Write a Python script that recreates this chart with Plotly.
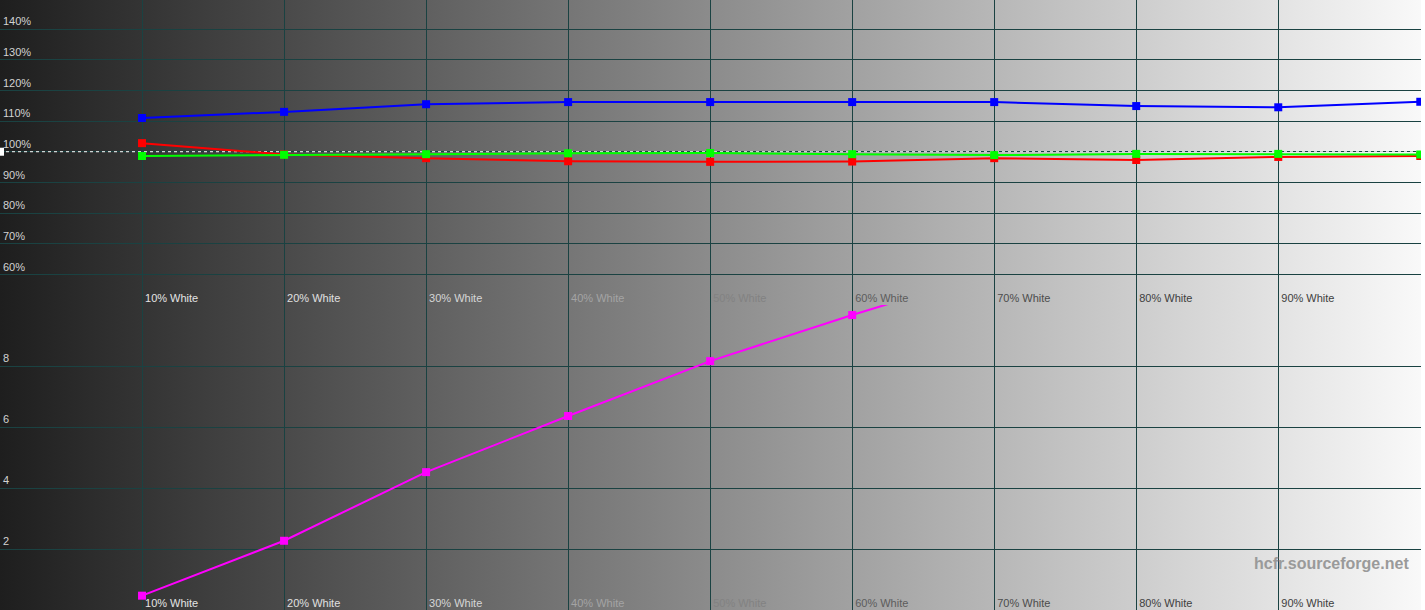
"""
HCFR style grayscale report: RGB balance (top) and DeltaE (bottom)
"""

import base64
import plotly.graph_objects as go
from plotly.subplots import make_subplots

# =============================================================================
# DATA
# =============================================================================

levels = [10, 20, 30, 40, 50, 60, 70, 80, 90, 100]
level_labels = ['10% White', '20% White', '30% White', '40% White', '50% White',
                '60% White', '70% White', '80% White', '90% White', '']

red_pct = [102.8, 99.1, 97.9, 96.9, 96.7, 96.8, 97.9, 97.3, 98.3, 98.6]
green_pct = [98.6, 99.0, 99.2, 99.5, 99.6, 99.2, 98.9, 99.3, 99.3, 99.1]
blue_pct = [111.0, 113.0, 115.5, 116.2, 116.2, 116.2, 116.2, 114.9, 114.5, 116.3]

delta_levels = [10, 20, 30, 40, 50, 60, 70]
delta_e = [0.47, 2.27, 4.52, 6.36, 8.16, 9.67, 11.1]

ref_x = [0, 100]
ref_y = [100, 100]

pct_ticks = [60, 70, 80, 90, 100, 110, 120, 130, 140]
pct_labels = ['60%', '70%', '80%', '90%', '100%', '110%', '120%', '130%', '140%']
de_ticks = [2, 4, 6, 8]

# label colours shift with the grey background behind them
label_colors = ['#e4e4e4', '#e0e0e0', '#d6d6d6', '#a4a4a4', '#828282',
                '#5c5c5c', '#4c4c4c', '#404040', '#404040', '#404040']

GRID = '#1a4242'
FONT = 'Liberation Sans, Arial, sans-serif'


def gradient_source():
    svg = ('<svg xmlns="http://www.w3.org/2000/svg" width="100" height="10" '
           'preserveAspectRatio="none"><defs><linearGradient id="g" x1="0" x2="1" y1="0" y2="0">'
           '<stop offset="0" stop-color="#1e1e1e"/><stop offset="1" stop-color="#f9f9f9"/>'
           '</linearGradient></defs><rect width="100" height="10" fill="url(#g)"/></svg>')
    return 'data:image/svg+xml;base64,' + base64.b64encode(svg.encode()).decode()


# =============================================================================
# FIGURE
# =============================================================================

fig = make_subplots(rows=2, cols=1, vertical_spacing=0)

ticktext = [f'<span style="color:{c}">{t}</span>' for t, c in zip(level_labels, label_colors)]

# 100% reference level
fig.add_trace(go.Scatter(
    x=ref_x, y=ref_y, mode='lines',
    line=dict(color='white', width=1, dash='3px,3px'),
    hoverinfo='skip', showlegend=False
), row=1, col=1)
fig.add_trace(go.Scatter(
    x=ref_x[:1], y=ref_y[:1], mode='markers',
    marker=dict(symbol='square', size=8, color='white'),
    hoverinfo='skip', showlegend=False
), row=1, col=1)

for name, vals, color in [('Red', red_pct, '#ff0000'),
                          ('Green', green_pct, '#00ff00'),
                          ('Blue', blue_pct, '#0000ff')]:
    fig.add_trace(go.Scatter(
        x=levels, y=vals, mode='lines+markers', name=name,
        line=dict(color=color, width=2),
        marker=dict(symbol='square', size=8, color=color),
        showlegend=False
    ), row=1, col=1)

fig.add_trace(go.Scatter(
    x=delta_levels, y=delta_e, mode='lines+markers', name='DeltaE',
    line=dict(color='#ff00ff', width=2),
    marker=dict(symbol='square', size=8, color='#ff00ff'),
    showlegend=False
), row=2, col=1)

fig.update_xaxes(
    range=[0, 100.05], tickvals=levels, ticktext=ticktext,
    ticklabelposition='inside right', ticks='', showgrid=True,
    gridcolor=GRID, gridwidth=1, zeroline=False, showline=False,
    ticklabelstandoff=-5, ticklabelshift=3,
    tickfont=dict(size=11, family=FONT)
)

fig.update_yaxes(range=[50, 149.5], tickvals=pct_ticks, ticktext=pct_labels, row=1, col=1)
fig.update_yaxes(range=[0, 10], tickvals=de_ticks, row=2, col=1)
fig.update_yaxes(
    ticklabelposition='inside top', showline=False,
    ticks='', showgrid=True, gridcolor=GRID, gridwidth=1, zeroline=False,
    tickfont=dict(size=11, family=FONT, color='#d2d2d2')
)

fig.add_layout_image(
    source=gradient_source(), xref='paper', yref='paper',
    x=0, y=1, sizex=1, sizey=1, sizing='stretch', layer='below'
)

fig.add_annotation(
    xref='paper', yref='paper', x=0.993, y=0.077,
    xanchor='right', yanchor='middle', showarrow=False,
    text='<b>hcfr.sourceforge.net</b>',
    font=dict(size=16, family=FONT, color='#9a9a9a')
)

fig.update_layout(
    width=1425, height=610,
    margin=dict(l=0, r=4, t=0, b=0),
    paper_bgcolor='white', plot_bgcolor='rgba(0,0,0,0)',
    showlegend=False
)

fig.write_html("out.html", config={'displayModeBar': False},
               post_script="document.body.style.margin='0';")
